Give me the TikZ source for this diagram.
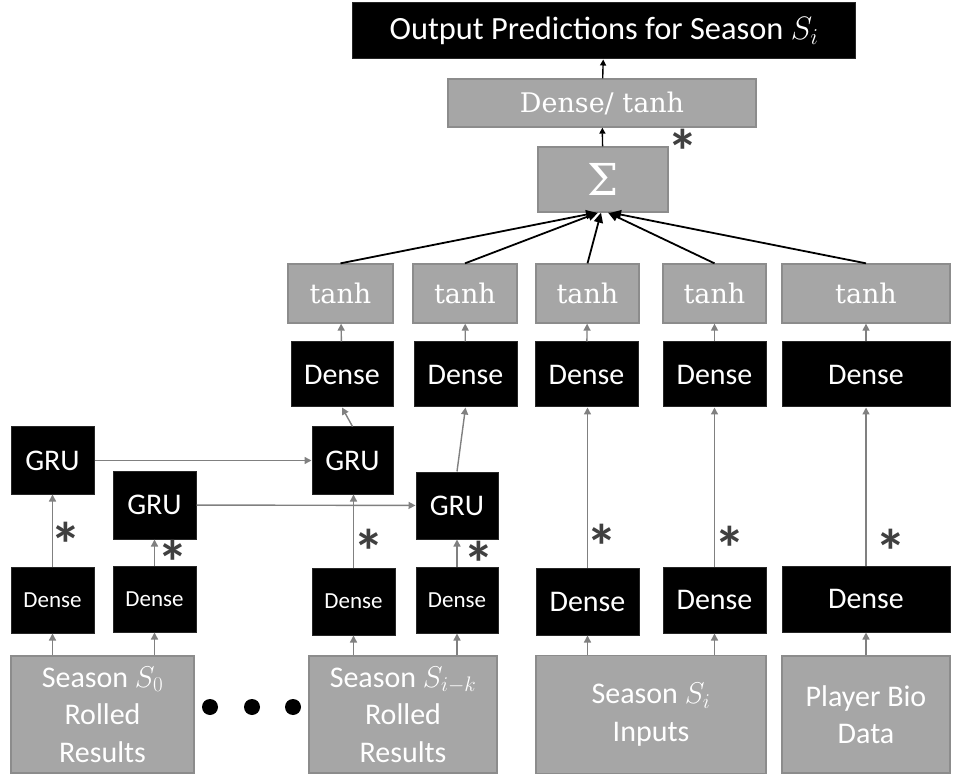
\RequirePackage{fix-cm}
\documentclass[tikz,border=0pt]{standalone}
\usepackage[no-math]{fontspec}
\setmainfont{Carlito}
\newfontfamily\cmbr{DejaVu Serif}
\usetikzlibrary{arrows.meta,calc}
\newcommand{\biglbl}{\fontsize{30}{37.5}\selectfont}
\newcommand{\smalllbl}{\fontsize{23}{28}\selectfont}
\newcommand{\seriflbl}{\cmbr\fontsize{27}{32}\selectfont}
\newcommand{\starmark}{\raisebox{-0.3em}[0.36em][0pt]{*}}
\definecolor{boxgray}{RGB}{166,166,166}
\definecolor{edgegray}{RGB}{140,140,140}
\definecolor{linkgray}{RGB}{128,128,128}
\definecolor{stargray}{RGB}{64,64,64}

\begin{document}
\begin{tikzpicture}[x=1pt, y=-1pt,
    box/.style={rectangle, inner sep=0pt, font=\biglbl, text=white, align=center},
    blk/.style={box, fill=black, draw=black!85, line width=1pt},
    gry/.style={box, fill=boxgray, draw=edgegray, line width=1.3pt},
    sz/.style 2 args={minimum width=#1pt, minimum height=#2pt},
    arr/.style={draw=linkgray, line width=1.4pt, -{Triangle[length=7pt,width=7pt]}},
    toparr/.style={draw=black, line width=1.4pt, -{Triangle[length=6pt,width=6pt]}},
    sumarr/.style={draw=black, line width=1.8pt, -{Triangle[length=10pt,width=9pt]}},
    star/.style={anchor=north, inner sep=0pt, text=stargray, font=\fontsize{62}{62}\selectfont\bfseries}]
  \useasboundingbox (0,0) rectangle (956,775);

  % Output side
  \node[blk, sz={503}{56}, font=\fontsize{32.4}{36}\selectfont] (out) at (604,31) {Output Predictions for Season $S_i$};
  \node[gry, sz={308}{48}, font=\seriflbl] (dt) at (602,103) {Dense/ tanh};
  \node[gry, sz={130}{65}, font=\cmbr\fontsize{44}{44}\selectfont] (sig) at (603,179.5) {Σ};
  \node[star] (kS) at (682.5,132) {\starmark};

  % tanh row
  \node[gry, sz={105}{59}, font=\seriflbl] (tA) at (340.5,293.5) {tanh};
  \node[gry, sz={104}{59}, font=\seriflbl] (tB) at (465,293.5) {tanh};
  \node[gry, sz={103}{59}, font=\seriflbl] (tC) at (587.5,293.5) {tanh};
  \node[gry, sz={103}{59}, font=\seriflbl] (tD) at (714.5,293.5) {tanh};
  \node[gry, sz={168}{59}, font=\seriflbl] (tE) at (866,293.5) {tanh};

  % upper Dense row
  \node[blk, sz={102}{65}] (uA) at (342,374.5) {Dense};
  \node[blk, sz={103}{65}] (uB) at (465.5,374.5) {Dense};
  \node[blk, sz={103}{65}] (uC) at (586.5,374.5) {Dense};
  \node[blk, sz={103}{65}] (uD) at (714.5,374.5) {Dense};
  \node[blk, sz={168}{65}] (uE) at (866,374.5) {Dense};

  % GRU cells
  \node[blk, sz={83}{67}] (gA) at (52.5,460.5) {GRU};
  \node[blk, sz={83}{68}] (gB) at (154.5,505) {GRU};
  \node[blk, sz={81}{67}] (gC) at (352.5,460.5) {GRU};
  \node[blk, sz={82}{67}] (gD) at (457,505.5) {GRU};

  % lower Dense row
  \node[blk, sz={83}{66}, font=\smalllbl] (dA) at (52.5,600) {Dense};
  \node[blk, sz={83}{66}, font=\smalllbl] (dB) at (154.5,599) {Dense};
  \node[blk, sz={83}{67}, font=\smalllbl] (dC) at (353.5,601.5) {Dense};
  \node[blk, sz={82}{66}, font=\smalllbl] (dD) at (457,600) {Dense};
  \node[blk, sz={103}{67}] (dE) at (587.5,601.5) {Dense};
  \node[blk, sz={103}{66}] (dF) at (714.5,600) {Dense};
  \node[blk, sz={168}{66}] (dG) at (866,599) {Dense};

  % inputs
  \node[gry, sz={183}{117}] (sA) at (102.5,714.5) {Season $S_0$\\Rolled\\Results};
  \node[gry, sz={188}{117}] (sB) at (403,714.5) {Season $S_{i-k}$\\Rolled\\Results};
  \node[gry, sz={230}{118}] (sC) at (651,714.5) {Season $S_i$\\Inputs};
  \node[gry, sz={168}{117}] (sD) at (866,714.5) {Player Bio\\Data};
  \foreach \dx in {210,252,293}
    \fill (\dx,707) circle (8pt);

  % inputs to Dense
  \draw[arr] (sA.north -| dA) -- (dA);
  \draw[arr] (sA.north -| dB) -- (dB);
  \draw[arr] (sB.north -| dC) -- (dC);
  \draw[arr] (sB.north -| dD) -- (dD);
  \draw[arr] (sC.north -| dE) -- (dE);
  \draw[arr] (sC.north -| dF) -- (dF);
  \draw[arr] (sD.north -| dG) -- (dG);

  % Dense to GRU / upper Dense
  \draw[arr] (dA) -- (gA);
  \draw[arr] (dB) -- (gB);
  \draw[arr] (dC.north) -- (dC.north |- gC.south);
  \draw[arr] (dD) -- (gD);
  \draw[arr] (dE.north) -- (dE.north |- uC.south);
  \draw[arr] (dF) -- (uD);
  \draw[arr] (dG) -- (uE);
  \node[star] (kA) at (66,525) {\starmark};
  \node[star] (kB) at (172.5,543) {\starmark};
  \node[star] (kC) at (369,532) {\starmark};
  \node[star] (kD) at (479,544) {\starmark};
  \node[star] (kE) at (602,527) {\starmark};
  \node[star] (kF) at (730,529) {\starmark};
  \node[star] (kG) at (891,532) {\starmark};

  % recurrence
  \draw[arr] (gA) -- (gC);
  \draw[arr] (gB) -- (gD);
  \draw[arr] (gC.north) -- (uA.south);
  \draw[arr] (gD.north) -- (uB.south);

  % Dense to tanh
  \foreach \u/\t in {uA/tA, uB/tB, uC/tC, uD/tD, uE/tE}
    \draw[arr] (\u) -- (\t);

  % merge
  \draw[sumarr] (tA.north) -- ([xshift=-7pt]sig.south);
  \draw[sumarr] (tB.north) -- ([xshift=-5pt]sig.south);
  \draw[sumarr] (tC.north) -- ([xshift=-2pt]sig.south);
  \draw[sumarr] (tD.north) -- ([xshift=5pt]sig.south);
  \draw[sumarr] (tE.north) -- ([xshift=8pt]sig.south);
  \draw[toparr] (sig) -- (dt);
  \draw[toparr] (dt) -- (out);
\end{tikzpicture}
\end{document}
